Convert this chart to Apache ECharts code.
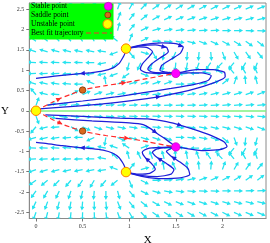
<!DOCTYPE html>
<html><head><meta charset="utf-8">
<script src="https://cdn.jsdelivr.net/npm/echarts@6/dist/echarts.min.js"></script>
<style>html,body{margin:0;padding:0;background:#fff}#c{width:270px;height:243px}</style>
</head><body><div id="c"></div>
<script>
// quiver grid (tail positions) and screen angles (deg, counter-clockwise from +x)
const gridX = [0,0.125,0.25,0.375,0.5,0.625,0.75,0.875,1,1.125,1.25,1.375,1.5,1.625,1.75,1.875,2,2.125,2.25,2.375];
const gridY = [2.5,2.237,1.974,1.711,1.447,1.184,0.921,0.658,0.395,0.132,-0.132,-0.395,-0.658,-0.921,-1.184,-1.447,-1.711,-1.974,-2.237,-2.5];
const fieldAngles = [
 [110,105,100,95,92,88,82,70,60,45,35,33,31,30,28,27,26,25,24,23],
 [115,110,105,100,95,90,85,68,52,38,30,26,23,21,19,18,17,16,15,14],
 [125,120,115,108,102,95,90,75,50,25,15,10,7,5,3,2,0,0,-2,-3],
 [145,140,135,130,125,120,130,141,68,26,0,-5,-10,-15,-20,-25,-28,-32,-35,-38],
 [160,162,164,166,168,168,170,200,310,345,300,260,245,265,265,275,290,300,305,310],
 [176,176,177,178,178,180,190,225,255,245,250,255,265,260,250,235,225,230,240,250],
 [182,183,184,185,186,188,192,200,215,340,355,0,190,185,180,170,150,130,120,115],
 [165,168,172,176,180,155,100,25,15,15,18,20,0,5,10,20,40,70,95,105],
 [130,165,175,30,25,20,15,12,10,8,6,6,8,10,12,14,16,18,20,22],
 [70,15,10,8,7,6,5,5,4,4,3,3,3,3,4,4,5,5,6,6],
 [-70,-15,-10,-8,-7,-6,-5,-5,-4,-4,-3,-3,-3,-3,-4,-4,-5,-5,-6,-6],
 [-130,-165,-175,-30,-25,-20,-15,-12,-10,-8,-6,-6,-8,-10,-12,-14,-16,-18,-20,-22],
 [-165,-168,-172,-176,-180,-155,-100,-25,-15,-15,-18,-20,0,-5,-10,-20,-40,-70,-95,-105],
 [-182,-183,-184,-185,-186,-188,-192,-200,-215,-340,-355,0,-190,-185,-180,-170,-150,-130,-120,-115],
 [-176,-176,-177,-178,-178,-180,-190,-225,-255,-245,-250,-255,-265,-260,-250,-235,-225,-230,-240,-250],
 [-160,-162,-164,-166,-168,-168,-170,-200,-310,-345,-300,-260,-245,-265,-265,-275,-290,-300,-305,-310],
 [-145,-140,-135,-130,-125,-120,-130,-141,-68,-26,0,5,10,15,20,25,28,32,35,38],
 [-125,-120,-115,-108,-102,-95,-90,-75,-50,-25,-15,-10,-7,-5,-3,-2,0,0,2,3],
 [-115,-110,-105,-100,-95,-90,-85,-68,-52,-38,-30,-26,-23,-21,-19,-18,-17,-16,-15,-14],
 [-110,-105,-100,-95,-92,-88,-82,-70,-60,-45,-35,-33,-31,-30,-28,-27,-26,-25,-24,-23]
];

// fixed points
const stablePoints = [[1.5,0.92],[1.5,-0.89]];
const saddlePoints = [[0.5,0.51],[0.5,-0.5]];
const unstablePoints = [[0,0],[0.966,1.53],[0.966,-1.51]];

// best fit trajectories (red dashed)
const bestFitUpper = [[0,0],[0.08,0.1],[0.17,0.2],[0.265,0.31],[0.38,0.41],[0.5,0.51],[0.62,0.57],[0.75,0.62],[0.96,0.695],[1.19,0.79],[1.35,0.86],[1.5,0.92]];
const bestFitLower = [[0,0],[0.08,-0.1],[0.18,-0.22],[0.28,-0.33],[0.39,-0.42],[0.5,-0.5],[0.62,-0.56],[0.75,-0.61],[1.0,-0.685],[1.21,-0.77],[1.37,-0.84],[1.5,-0.89]];

// blue trajectories
const leftUpper = [[0.966,1.53],[0.955,1.42],[0.935,1.32],[0.89,1.16],[0.82,1.05],[0.72,0.98],[0.6,0.94],[0.45,0.91],[0.28,0.87],[0.12,0.83],[0.0,0.80]];
const leftLower = [[0.966,-1.51],[0.955,-1.40],[0.935,-1.30],[0.89,-1.15],[0.82,-1.04],[0.72,-0.97],[0.6,-0.93],[0.45,-0.9],[0.28,-0.86],[0.12,-0.81],[0.0,-0.78]];
const loopUpperOuter = [[0.0,0.04],[0.4,0.11],[0.8,0.19],[1.19,0.30],[1.33,0.35],[1.55,0.45],[1.75,0.57],[1.92,0.7],[2.03,0.84],[2.02,0.95],[1.9,1.01],[1.72,1.01],[1.58,0.96],[1.5,0.92]];
const loopUpperInner = [[0.12,0.14],[0.5,0.24],[0.85,0.34],[1.19,0.46],[1.45,0.55],[1.7,0.65],[1.85,0.75],[1.88,0.86],[1.78,0.93],[1.62,0.93],[1.5,0.92]];
const loopLowerOuter = [[0.1,-0.1],[0.5,-0.14],[0.9,-0.18],[1.2,-0.2],[1.4,-0.27],[1.57,-0.37],[1.75,-0.5],[1.9,-0.63],[2.02,-0.77],[2.05,-0.88],[1.97,-0.96],[1.8,-0.98],[1.62,-0.93],[1.5,-0.89]];
const loopLowerInner = [[0.21,-0.19],[0.6,-0.25],[1.0,-0.3],[1.15,-0.34],[1.23,-0.44],[1.3,-0.56],[1.38,-0.68],[1.45,-0.8],[1.5,-0.89]];
const hookUpper1 = [[0.966,1.53],[1.15,1.63],[1.35,1.67],[1.5,1.65],[1.58,1.57],[1.55,1.42],[1.45,1.27],[1.35,1.12],[1.33,1.0],[1.4,0.95],[1.5,0.92]];
const hookUpper2 = [[0.966,1.53],[1.12,1.6],[1.28,1.62],[1.4,1.56],[1.42,1.45],[1.33,1.3],[1.24,1.15],[1.2,1.02],[1.25,0.95],[1.38,0.93],[1.5,0.92]];
const hookUpper3 = [[0.966,1.53],[1.1,1.57],[1.2,1.55],[1.25,1.45],[1.2,1.3],[1.14,1.15],[1.12,1.02],[1.18,0.94],[1.35,0.92],[1.5,0.92]];
const hookLower1 = [[0.966,-1.51],[1.15,-1.62],[1.35,-1.67],[1.55,-1.65],[1.65,-1.57],[1.63,-1.42],[1.55,-1.27],[1.45,-1.12],[1.4,-1.0],[1.45,-0.93],[1.5,-0.89]];
const hookLower2 = [[0.966,-1.51],[1.12,-1.59],[1.3,-1.62],[1.45,-1.56],[1.48,-1.45],[1.4,-1.3],[1.3,-1.15],[1.25,-1.02],[1.3,-0.94],[1.42,-0.9],[1.5,-0.89]];
const hookLower3 = [[0.966,-1.51],[1.1,-1.56],[1.22,-1.54],[1.28,-1.44],[1.24,-1.3],[1.17,-1.15],[1.14,-1.02],[1.2,-0.93],[1.36,-0.9],[1.5,-0.89]];

// arrowheads on trajectories: [fromX, fromY, toX, toY]
const blueArrows = [[0.6,0.94,0.47,0.913],[0.6,-0.93,0.47,-0.905],[1.19,0.30,1.34,0.355],[1.4,-0.27,1.57,-0.37],[1.23,-0.44,1.3,-0.56],[1.5,1.65,1.58,1.57],[1.28,1.62,1.4,1.56],[1.55,-1.27,1.45,-1.12],[1.4,-1.3,1.3,-1.15],[1.24,-1.3,1.17,-1.15]];
const redArrows = [[0.17,0.2,0.27,0.315],[0.85,0.66,0.97,0.698],[0.18,-0.22,0.285,-0.335],[0.88,-0.65,1.0,-0.686]];

const xTicks = [0,0.5,1,1.5,2];
const yTicks = [-2.5,-2,-1.5,-1,-0.5,0,0.5,1,1.5,2,2.5];
const legendLabels = ['Stable point','Saddle point','Unstable point','Best fit trajectory'];

const quiverData = [];
gridY.forEach((y, r) => gridX.forEach((x, c) => quiverData.push([x, y, fieldAngles[r][c]])));

function quiverItem(params, api) {
  const p = api.coord([api.value(0), api.value(1)]);
  const a = api.value(2) * Math.PI / 180;
  const L = 9, hl = 3.8, hw = 2.1, sw = 0.65;
  const ux = Math.cos(a), uy = -Math.sin(a), nx = -uy, ny = ux;
  const bx = p[0] + ux * (L - hl), by = p[1] + uy * (L - hl);
  const tx = p[0] + ux * L, ty = p[1] + uy * L;
  return {type: 'polygon', shape: {points: [
    [p[0] + nx * sw, p[1] + ny * sw], [bx + nx * sw, by + ny * sw], [bx + nx * hw, by + ny * hw],
    [tx, ty], [bx - nx * hw, by - ny * hw], [bx - nx * sw, by - ny * sw], [p[0] - nx * sw, p[1] - ny * sw]]},
    style: {fill: '#25e3ef'}};
}
function headItem(color) {
  return function (params, api) {
    const p1 = api.coord([api.value(0), api.value(1)]);
    const p2 = api.coord([api.value(2), api.value(3)]);
    let dx = p2[0] - p1[0], dy = p2[1] - p1[1];
    const d = Math.hypot(dx, dy) || 1; dx /= d; dy /= d;
    const nx = -dy, ny = dx, hl = 5, hw = 2.4;
    const b = [p2[0] - dx * hl, p2[1] - dy * hl];
    return {type: 'polygon', shape: {points: [p2, [b[0] + nx * hw, b[1] + ny * hw], [b[0] - nx * hw, b[1] - ny * hw]]},
      style: {fill: color}};
  };
}
const blue = '#1e1ed8';
function traj(data) {
  return {type: 'line', data: data, showSymbol: false, smooth: 0.22, clip: true, silent: true, z: 3,
    lineStyle: {color: blue, width: 1.25}};
}
function fit(data) {
  return {type: 'line', data: data, showSymbol: false, smooth: 0.22, clip: true, silent: true, z: 4,
    lineStyle: {color: '#ff2a2a', width: 1.2, type: [5, 3]}};
}
const serif = 'Liberation Serif';

const chart = echarts.init(document.getElementById('c'), null, {renderer: 'canvas'});
chart.setOption({
  animation: false,
  backgroundColor: '#fff',
  grid: {left: 29.3, right: 4, top: 3, bottom: 24.5, containLabel: false, outerBoundsMode: 'none',
    show: true, borderColor: '#8a8a8a', borderWidth: 1, backgroundColor: 'transparent'},
  xAxis: {type: 'value', min: -0.072, max: 2.468, splitLine: {show: false},
    axisLine: {show: true, onZero: false, lineStyle: {color: '#8a8a8a', width: 1}},
    axisTick: {show: true, customValues: xTicks, length: 3, lineStyle: {color: '#777'}},
    axisLabel: {customValues: xTicks, fontSize: 6, fontFamily: serif, color: '#333', margin: 5},
    name: 'X', nameLocation: 'middle', nameGap: 8.5,
    nameTextStyle: {fontFamily: serif, fontSize: 11, color: '#000'}},
  yAxis: {type: 'value', min: -2.653, max: 2.653, splitLine: {show: false},
    axisLine: {show: true, onZero: false, lineStyle: {color: '#8a8a8a', width: 1}},
    axisTick: {show: true, customValues: yTicks, length: 3, lineStyle: {color: '#777'}},
    axisLabel: {customValues: yTicks, fontSize: 6, fontFamily: serif, color: '#333', margin: 5},
    name: 'Y', nameLocation: 'middle', nameRotate: 0, nameGap: 17.5,
    nameTextStyle: {fontFamily: serif, fontSize: 11, color: '#000'}},
  series: [
    {type: 'custom', renderItem: quiverItem, data: quiverData, clip: true, silent: true, z: 1,
      markLine: {silent: true, symbol: 'none', label: {show: false}, z: 2,
        lineStyle: {color: '#80f080', width: 1.5, type: 'solid'}, data: [{yAxis: 0}]}},
    traj(leftUpper), traj(leftLower), traj(loopUpperOuter), traj(loopUpperInner),
    traj(loopLowerOuter), traj(loopLowerInner),
    traj(hookUpper1), traj(hookUpper2), traj(hookUpper3),
    traj(hookLower1), traj(hookLower2), traj(hookLower3),
    fit(bestFitUpper), fit(bestFitLower),
    {type: 'custom', renderItem: headItem(blue), data: blueArrows, clip: true, silent: true, z: 5},
    {type: 'custom', renderItem: headItem('#ff2a2a'), data: redArrows, clip: true, silent: true, z: 5},
    {type: 'scatter', data: stablePoints, symbol: 'circle', symbolSize: 8.5, z: 6, silent: true,
      itemStyle: {color: '#ff00ff', borderColor: '#b000b0', borderWidth: 0.6, opacity: 1}},
    {type: 'scatter', data: saddlePoints, symbol: 'circle', symbolSize: 6.5, z: 6, silent: true,
      itemStyle: {color: '#d9681c', borderColor: '#6a2a00', borderWidth: 0.7, opacity: 1}},
    {type: 'scatter', data: unstablePoints, symbol: 'circle', symbolSize: 9.5, z: 6, silent: true,
      itemStyle: {color: '#ffff00', borderColor: '#ff7a00', borderWidth: 1, opacity: 1}}
  ],
  graphic: [
    {type: 'rect', z: 100, shape: {x: 29.5, y: 3.5, width: 84, height: 36}, style: {fill: '#00ff00'}},
    {type: 'text', z: 101, x: 31, y: 6.5, style: {text: legendLabels[0], fontSize: 7.5, fontFamily: serif, fill: '#000', verticalAlign: 'middle'}},
    {type: 'text', z: 101, x: 31, y: 15, style: {text: legendLabels[1], fontSize: 7.5, fontFamily: serif, fill: '#000', verticalAlign: 'middle'}},
    {type: 'text', z: 101, x: 31, y: 24, style: {text: legendLabels[2], fontSize: 7.5, fontFamily: serif, fill: '#000', verticalAlign: 'middle'}},
    {type: 'text', z: 101, x: 31, y: 33, style: {text: legendLabels[3], fontSize: 7.5, fontFamily: serif, fill: '#000', verticalAlign: 'middle'}},
    {type: 'circle', z: 101, shape: {cx: 108.3, cy: 6.3, r: 4}, style: {fill: '#ff00ff', stroke: '#b000b0', lineWidth: 0.6}},
    {type: 'circle', z: 101, shape: {cx: 107.8, cy: 15, r: 3}, style: {fill: '#d9681c', stroke: '#6a2a00', lineWidth: 0.7}},
    {type: 'circle', z: 101, shape: {cx: 107.5, cy: 24, r: 4.5}, style: {fill: '#ffff00', stroke: '#ff7a00', lineWidth: 1}},
    {type: 'line', z: 101, shape: {x1: 86, y1: 33, x2: 112, y2: 33}, style: {stroke: '#ff2a2a', lineWidth: 1.2, lineDash: [5, 3]}}
  ]
});
</script>
</body></html>
